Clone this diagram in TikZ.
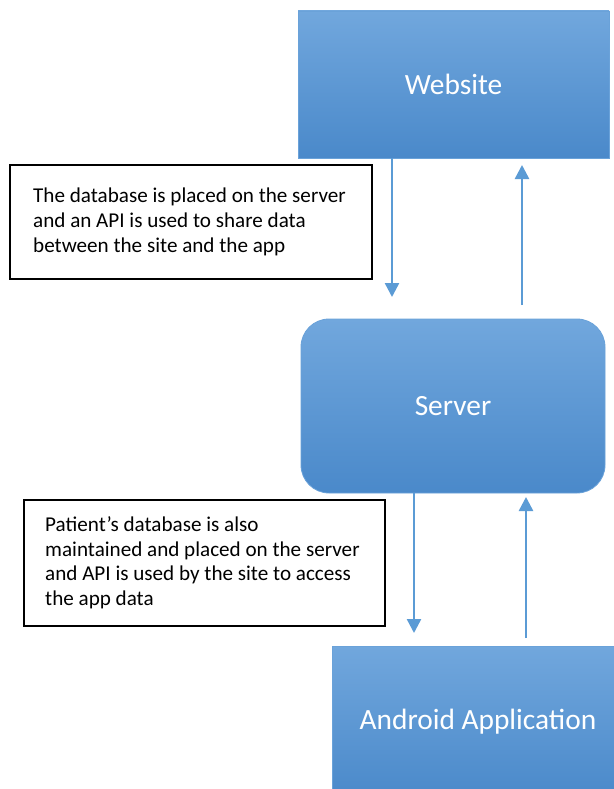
\documentclass[tikz,border=0pt]{standalone}
\usepackage{fontspec}
\setmainfont{Carlito}
\usetikzlibrary{arrows.meta}
\definecolor{boxtop}{HTML}{71A7DD}
\definecolor{boxbot}{HTML}{4A89CA}
\definecolor{boxline}{HTML}{6AA2D9}
\definecolor{arr}{HTML}{5B9BD5}
\tikzset{
  bluebox/.style={draw=boxline, line width=0.8bp, top color=boxtop, bottom color=boxbot,
    text=white, font=\fontsize{29.5}{35}\selectfont, inner sep=0pt},
  notebox/.style={draw=black, line width=1.5bp, fill=white, inner sep=0pt, anchor=north west},
  notetext/.style={align=left, inner sep=0pt, anchor=west, font=\fontsize{21.2}{24.8}\selectfont},
  flow/.style={draw=arr, line width=2.5bp, -{Triangle[width=14bp,length=14bp]}}
}
\begin{document}
\begin{tikzpicture}[x=1bp,y=-1bp]
\clip (0,0) rectangle (614,789);
\fill[white] (0,0) rectangle (614,789);
% main blocks
\node[bluebox, minimum width=311bp, minimum height=147bp] (web) at (453.5,84.5) {Website};
\node[bluebox, rounded corners=28bp, minimum width=304bp, minimum height=174bp] (srv) at (453,406) {Server};
\node[bluebox, minimum width=292bp, minimum height=152bp] (app) at (478,722) {Android Application};
% notes
\node[notebox, minimum width=362bp, minimum height=114bp] (note1) at (9,164) {};
\node[notetext] (note1txt) at ([xshift=24bp]note1.west) {The database is placed on the server\\and an API is used to share data\\between the site and the app};
\node[notebox, minimum width=361bp, minimum height=126bp] (note2) at (23,499) {};
\node[notetext] (note2txt) at ([xshift=22bp]note2.west) {Patient’s database is also\\maintained and placed on the server\\and API is used by the site to access\\the app data};
% arrow ends
\coordinate (t1) at (392,297);
\coordinate (s2) at (522,305);
\coordinate (t2) at (522,165);
\coordinate (t3) at (414,633);
\coordinate (s4) at (526,638);
\coordinate (t4) at (526,497);
\draw[flow] (web.south -| t1) -- (t1);
\draw[flow] (s2) -- (t2);
\draw[flow] (srv.south -| t3) -- (t3);
\draw[flow] (s4) -- (t4);
\end{tikzpicture}
\end{document}
